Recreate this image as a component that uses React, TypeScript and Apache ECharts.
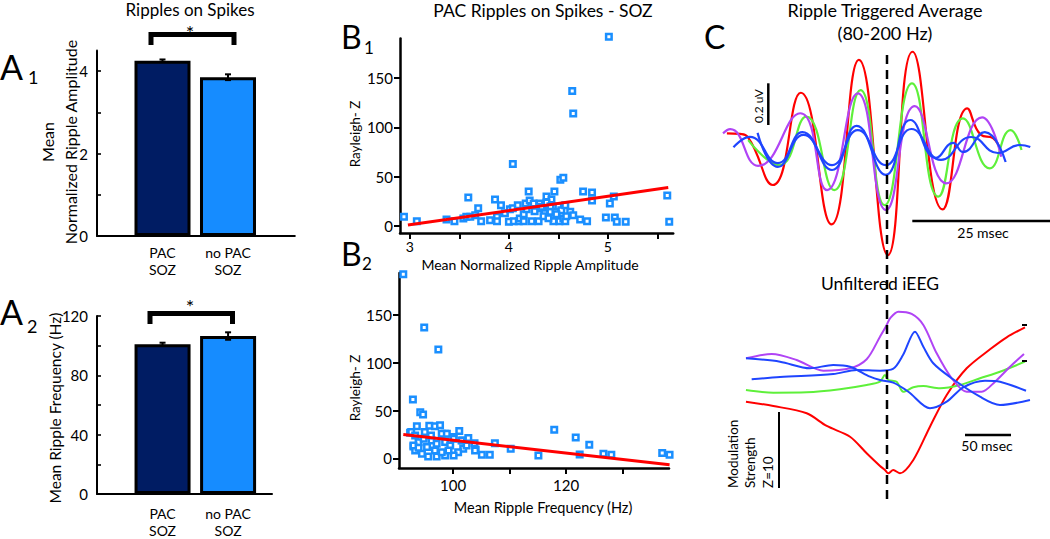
import React, { useEffect, useRef } from "react";
import * as echarts from "echarts";

const FONT = "Lato, 'Open Sans', sans-serif";

// ---- Panel A data ----
const groupLabels = ["PAC\nSOZ", "no PAC\nSOZ"];
const groupColors = ["#001c63", "#168cff"];
const ampMeans = [4.25, 3.85];
const ampErrs = [0.03, 0.07];
const freqMeans = [101, 106.5];
const freqErrs = [1, 2.5];
const ampTicks = [0, 1, 2, 3, 4];
const ampTickLabels = [0, 2, 4];
const freqTicks = [0, 20, 40, 60, 80, 100, 120];
const freqTickLabels = [0, 40, 80, 120];

// ---- Panel B data ----
const b1Points = [
  [2.94, 9.4], [3.07, 5], [3.37, 6.8], [3.45, 5], [3.54, 7.8], [3.57, 9.4], [3.61, 9.4], [3.59, 29],
  [3.66, 11], [3.69, 18], [3.72, 5], [3.81, 6], [3.86, 27], [3.88, 9.4], [3.88, 5], [3.92, 21],
  [3.96, 13], [4.0, 4.4], [4.01, 17], [4.04, 63], [4.04, 18], [4.05, 5], [4.09, 21], [4.1, 5],
  [4.11, 7.8], [4.15, 12], [4.15, 5], [4.18, 17], [4.17, 23], [4.2, 35], [4.21, 26], [4.23, 5],
  [4.25, 23], [4.26, 15], [4.3, 5], [4.31, 23], [4.33, 18], [4.36, 13], [4.38, 30], [4.4, 20],
  [4.42, 14.5], [4.43, 27], [4.46, 35], [4.47, 14.5], [4.48, 9.4], [4.5, 20], [4.51, 5], [4.52, 47],
  [4.53, 16], [4.55, 49], [4.55, 7.8], [4.57, 21], [4.57, 5], [4.62, 14.5], [4.65, 11], [4.72, 6.8],
  [4.75, 35], [4.79, 5], [4.84, 34], [4.84, 26], [4.98, 8.8], [5.02, 23], [5.06, 30], [5.07, 8.8],
  [5.09, 4.4], [5.18, 4.4], [5.6, 31], [5.62, 4.4], [5.01, 192], [4.64, 137], [4.65, 114],
  [4.33, 19.5], [4.38, 24], [4.42, 20], [4.48, 12], [4.35, 10], [4.45, 5], [4.58, 10], [4.4, 8],
];
const b1Fit = [[2.98, 1], [5.61, 39]];
const b1XTicks = [3, 3.5, 4, 4.5, 5, 5.5];
const b1XLabels = [3, 4, 5];
const zTicks = [0, 50, 100, 150];

const b2Points = [
  [91.2, 192.7], [94.9, 137], [97.4, 114], [92.9, 61.6], [94.2, 48.3], [94.7, 45.9], [117.9, 30],
  [121.7, 22], [124.1, 14.4], [122.4, 4.2], [126.6, 4.9], [128.0, 3.9], [137.0, 5.6], [138.3, 3.9],
  [115.1, 3.1], [107.4, 16], [106.5, 3.9], [105.1, 3.9], [110.2, 10.2], [104.0, 9.1], [102.7, 21.3],
  [103.8, 16], [101.1, 28.6], [101.7, 18.9], [92.4, 27], [93.6, 33.6], [95.8, 34.3], [96.8, 33.6],
  [97.7, 34.6], [98.6, 25.9], [100.1, 22.4], [93.0, 12.6], [92.6, 27.6], [93.3, 24], [93.9, 17],
  [94.8, 20.6], [95.4, 11.9], [96.2, 18.9], [97.1, 15.4], [98.0, 25.9], [98.9, 25.9], [98.6, 17.1],
  [99.5, 13.6], [100.1, 20.6], [101.5, 18.9], [101.8, 10.2], [102.4, 13.6], [103.9, 8.4], [100.9, 6.6],
  [100.1, 3.1], [98.6, 3.1], [97.1, 2.1], [95.6, 2.1], [94.5, 4.9], [93.3, 8.4], [93.0, 13.6],
  [93.9, 11.2], [96.8, 8.4], [98.0, 6.6], [99.2, 8.4], [96.1, 24], [95.0, 27.6],
];
const b2Fit = [[91.2, 25], [138.3, -6.6]];
const b2XTicks = [100, 110, 120, 130];
const b2XLabels = [100, 120];

// ---- Panel C: ripple triggered average (ms, uV) ----
const rtaRed = [[-29.0, 0.057], [-26.6, 0.054], [-25.2, 0.04], [-20.6, -0.195], [-15.5, 0.255], [-9.9, -0.387], [-4.9, 0.415], [0.4, -0.537], [4.9, 0.455], [10.4, -0.314], [14.9, 0.179], [17.4, 0.049], [19.6, 0.033], [21.0, -0.034]];
const rtaGreen = [[-25.1, 0.024], [-19.4, -0.098], [-14.5, 0.138], [-9.4, -0.22], [-4.6, 0.268], [-0.2, -0.293], [4.8, 0.301], [9.6, -0.252], [14.1, 0.13], [19.0, -0.114], [22.8, 0.073], [24.8, -0.024]];
const rtaPurple = [[-29.7, 0.057], [-28.4, 0.077], [-23.3, -0.102], [-15.6, 0.155], [-10.7, -0.22], [-5.1, 0.252], [0.05, -0.317], [5.3, 0.19], [11.1, -0.187], [17.6, 0.135], [21.1, -0.057]];
const rtaBlueA = [[-27.8, -0.011], [-24.8, 0.04], [-19.7, -0.088], [-15.2, 0.063], [-9.8, -0.122], [-5.3, 0.093], [0, -0.146], [4.5, 0.122], [9.2, -0.063], [12.3, 0.01], [14.1, -0.034], [18.1, 0.063], [21.9, -0.083]];
const rtaBlueB = [[-23.4, 0.059], [-19.7, -0.107], [-15.0, 0.049], [-9.8, -0.098], [-5.1, 0.073], [0, -0.098], [4.7, 0.078], [10.1, -0.073], [15.6, 0.039], [20.5, -0.039], [24.5, 0], [26.4, -0.01]];

// ---- Panel C: unfiltered iEEG (ms, Z) ----
const iePurple = [[-153.3, 5.49], [-125.3, 6.05], [-98.2, 5.26], [-69.2, 3.86], [-40.2, 4.17], [-22.1, 5.36], [-7.6, 8.33], [-0.3, 9.87], [3.3, 10.75], [12.3, 11.62], [26.8, 11.32], [39.5, 9.87], [54.0, 6.14], [70.3, 2.86], [86.6, 1.09], [102.9, 1.09], [117.4, 2.41], [133.7, 4.38], [148.9, 6.05]];
const ieBlueU = [[-153.3, 5.49], [-116.3, 5.04], [-83.7, 4.17], [-58.4, 4.61], [-40.2, 4.38], [-18.5, 3.07], [-7.6, 2.63], [6.8, 2.28], [23.2, 1.09], [46.7, -1.09], [64.9, -0.22], [82.9, 1.67], [106.5, 2.54], [122.8, 2.41], [151.1, 1.22]];
const ieBlueL = [[-147.1, 2.72], [-116.3, 3.03], [-58.4, 3.42], [-32.9, 3.95], [-7.6, 3.86], [6.5, 4.08], [17.4, 5.92], [30.4, 8.99], [39.5, 7.0], [50.3, 4.83], [70.3, 2.86], [101.1, 0.43], [122.8, -0.66], [155.4, 0]];
const ieGreen = [[-153.3, 1.32], [-123.6, 0.96], [-87.3, 1.01], [-51.1, 1.41], [-22.1, 1.97], [-7.6, 2.41], [-2.2, 3.29], [1.4, 2.63], [10.5, 2.41], [17.7, 1.09], [28.6, 1.67], [39.5, 1.84], [57.6, 1.54], [79.3, 1.97], [101.1, 2.86], [122.8, 3.72], [150, 5.04]];
const ieRed = [[-153.3, -0.22], [-123.6, -0.79], [-87.3, -1.75], [-65.5, -3.42], [-40.2, -4.83], [-22.1, -7.01], [-7.6, -8.68], [-2.2, -9.21], [1.4, -9.64], [6.8, -9.21], [14.1, -9.64], [28.6, -7.89], [46.7, -3.51], [64.9, 0.66], [86.6, 4.17], [112, 6.67], [130.1, 8.25], [150, 9.57]];

const RED = "#ff0000";
const GREEN = "#5ef03a";
const PURPLE = "#b044f5";
const BLUE = "#1f45ff";
const SQ = "#1a8fff";

function errorRender(params: any, api: any) {
  const x = api.value(0);
  const lo = api.coord([x, api.value(1)]);
  const hi = api.coord([x, api.value(2)]);
  const cap = 3;
  const st = { stroke: "#000", lineWidth: 2 };
  return {
    type: "group",
    children: [
      { type: "line", shape: { x1: lo[0], y1: lo[1], x2: hi[0], y2: hi[1] }, style: st },
      { type: "line", shape: { x1: lo[0] - cap, y1: lo[1], x2: lo[0] + cap, y2: lo[1] }, style: st },
      { type: "line", shape: { x1: hi[0] - cap, y1: hi[1], x2: hi[0] + cap, y2: hi[1] }, style: st },
    ],
  };
}

const black = "#000";

function yAxisCfg(gridIndex: number, min: number, max: number, ticks: number[], labels: number[], inside: boolean, lw: number) {
  return {
    type: "value", gridIndex, min, max,
    axisLine: { show: true, onZero: false, lineStyle: { color: black, width: lw } },
    axisTick: { show: true, inside, length: inside ? 4 : 6, customValues: ticks, lineStyle: { color: black, width: lw * 0.8 } },
    axisLabel: { show: true, customValues: labels, color: black, fontSize: 15, fontFamily: FONT, margin: inside ? 9 : 7 },
    splitLine: { show: false },
  };
}

function xAxisCfg(gridIndex: number, min: number, max: number, ticks: number[] | null, labels: number[], lw: number, fmt?: (v: number) => string, margin = 8, fontSize = 15) {
  return {
    type: "value", gridIndex, min, max,
    axisLine: { show: true, onZero: false, lineStyle: { color: black, width: lw } },
    axisTick: ticks ? { show: true, length: 6, customValues: ticks, lineStyle: { color: black, width: lw * 0.8 } } : { show: false },
    axisLabel: { show: true, customValues: labels, color: black, fontSize, lineHeight: 17, fontFamily: FONT, margin, formatter: fmt },
    splitLine: { show: false },
  };
}

function hiddenAxis(gridIndex: number, min: number, max: number) {
  return { type: "value", gridIndex, min, max, show: false, splitLine: { show: false } };
}

function txt(text: string, x: number, y: number, fontSize: number, align = "center", extra: any = {}) {
  return {
    type: "text", x, y, z: 100,
    style: { text, fontSize, fontFamily: FONT, fill: "#000", textAlign: align, textVerticalAlign: "middle", ...extra },
  };
}
function rtxt(text: string, x: number, y: number, fontSize: number, align = "center", extra: any = {}) {
  return { ...txt(text, x, y, fontSize, align, extra), rotation: Math.PI / 2 };
}
function ln(x1: number, y1: number, x2: number, y2: number, w: number, extra: any = {}) {
  return { type: "line", z: 100, shape: { x1, y1, x2, y2 }, style: { stroke: "#000", lineWidth: w, ...extra } };
}

export default function App() {
  const ref = useRef<HTMLDivElement>(null);
  useEffect(() => {
    if (!ref.current) return;
    const chart = echarts.init(ref.current, undefined, { renderer: "svg" });
    const catFmt = (v: number) => groupLabels[Math.round(v) - 1] ?? "";
    const curve = (xi: number, data: number[][], color: string, w: number, smooth: number) => ({
      type: "line", xAxisIndex: xi, yAxisIndex: xi, data, smooth, symbol: "none", clip: false,
      lineStyle: { color, width: w },
    });
    const option: any = {
      animation: false,
      backgroundColor: "#fff",
      textStyle: { fontFamily: FONT },
      grid: [
        { left: 97, top: 50.4, width: 197.8, height: 185.6 },
        { left: 97, top: 316, width: 175, height: 180 },
        { left: 400, top: 38.6, width: 273.2, height: 194.4 },
        { left: 399, top: 273, width: 270, height: 195 },
        { left: 721.4, top: 42.5, width: 331.2, height: 225.5 },
        { left: 739.8, top: 301.2, width: 299, height: 197.6 },
      ],
      xAxis: [
        xAxisCfg(0, 0, 3.02, null, [1, 2], 2, catFmt, 8, 14),
        xAxisCfg(1, 0, 2.67, null, [1, 2], 2, catFmt, 11, 14),
        xAxisCfg(2, 2.9, 5.66, b1XTicks, b1XLabels, 2.5, undefined, 5, 14),
        xAxisCfg(3, 90.44, 138.2, b2XTicks, b2XLabels, 2.5, undefined, 8, 15),
        hiddenAxis(4, -30, 30),
        hiddenAxis(5, -160, 165),
      ],
      yAxis: [
        yAxisCfg(0, 0, 4.5, ampTicks, ampTickLabels, true, 2),
        yAxisCfg(1, 0, 120, freqTicks, freqTickLabels, true, 2),
        yAxisCfg(2, -7, 190, zTicks, zTicks, false, 2.5),
        yAxisCfg(3, -10, 194, zTicks, zTicks, false, 2.5),
        hiddenAxis(4, -0.6, 0.5),
        hiddenAxis(5, -13, 13),
      ],
      series: [
        {
          type: "bar", xAxisIndex: 0, yAxisIndex: 0, barWidth: 56,
          data: ampMeans.map((v, i) => ({ value: [i + 1, v], itemStyle: { color: groupColors[i] } })),
          itemStyle: { borderColor: "#000", borderWidth: 3 },
        },
        {
          type: "custom", xAxisIndex: 0, yAxisIndex: 0, renderItem: errorRender, z: 5,
          data: ampMeans.map((v, i) => [i + 1, v - ampErrs[i], v + ampErrs[i]]),
        },
        {
          type: "bar", xAxisIndex: 1, yAxisIndex: 1, barWidth: 56,
          data: freqMeans.map((v, i) => ({ value: [i + 1, v], itemStyle: { color: groupColors[i] } })),
          itemStyle: { borderColor: "#000", borderWidth: 3 },
        },
        {
          type: "custom", xAxisIndex: 1, yAxisIndex: 1, renderItem: errorRender, z: 5,
          data: freqMeans.map((v, i) => [i + 1, v - freqErrs[i], v + freqErrs[i]]),
        },
        {
          type: "scatter", xAxisIndex: 2, yAxisIndex: 2, data: b1Points, symbol: "rect", symbolSize: 5.5, clip: false,
          itemStyle: { color: "#fff", borderColor: SQ, borderWidth: 2.5, opacity: 1 },
        },
        { type: "line", xAxisIndex: 2, yAxisIndex: 2, data: b1Fit, symbol: "none", z: 4, lineStyle: { color: RED, width: 3 } },
        {
          type: "scatter", xAxisIndex: 3, yAxisIndex: 3, data: b2Points, symbol: "rect", symbolSize: 5.5, clip: false,
          itemStyle: { color: "#fff", borderColor: SQ, borderWidth: 2.5, opacity: 1 },
        },
        { type: "line", xAxisIndex: 3, yAxisIndex: 3, data: b2Fit, symbol: "none", z: 4, lineStyle: { color: RED, width: 3 } },
        curve(4, rtaRed, RED, 2.2, 0.5),
        curve(4, rtaGreen, GREEN, 2.2, 0.5),
        curve(4, rtaPurple, PURPLE, 2.2, 0.5),
        curve(4, rtaBlueA, BLUE, 2.2, 0.5),
        curve(4, rtaBlueB, BLUE, 2.2, 0.5),
        curve(5, ieRed, RED, 2, 0.3),
        curve(5, ieGreen, GREEN, 2, 0.3),
        curve(5, iePurple, PURPLE, 2, 0.3),
        curve(5, ieBlueU, BLUE, 2, 0.3),
        curve(5, ieBlueL, BLUE, 2, 0.3),
      ],
      graphic: {
        elements: [
          // Panel A1
          txt("Ripples on Spikes", 190, 9, 17),
          { type: "polyline", z: 100, shape: { points: [[151, 45], [151, 34.5], [234, 34.5], [234, 45]] }, style: { stroke: "#000", lineWidth: 5, fill: "none", lineJoin: "miter" } },
          txt("*", 190, 32, 20),
          txt("A", 0, 66, 34, "left"),
          txt("1", 28, 77, 18, "left"),
          rtxt("Mean\nNormalized Ripple Amplitude", 58.5, 142, 16, "center", { lineHeight: 23 }),
          // Panel A2
          { type: "polyline", z: 100, shape: { points: [[150, 324], [150, 313.5], [232.5, 313.5], [232.5, 324]] }, style: { stroke: "#000", lineWidth: 5, fill: "none", lineJoin: "miter" } },
          txt("*", 190, 306, 20),
          txt("A", 0, 311, 34, "left"),
          txt("2", 27, 326, 18, "left"),
          rtxt("Mean Ripple Frequency (Hz)", 55, 408, 15.5),
          // Panel B
          txt("PAC Ripples on Spikes - SOZ", 543, 10, 17.5),
          txt("B", 341, 36, 32, "left"),
          txt("1", 364, 47, 17, "left"),
          rtxt("Rayleigh- Z", 355, 134, 13.5),
          txt("Mean Normalized Ripple Amplitude", 530, 264, 14),
          txt("B", 341, 253, 32, "left"),
          txt("2", 362, 263, 17, "left"),
          rtxt("Rayleigh- Z", 355, 388, 13.5),
          txt("Mean Ripple Frequency (Hz)", 543, 507, 14.5),
          // Panel C
          txt("Ripple Triggered Average", 885, 10, 18),
          txt("(80-200 Hz)", 885, 33, 18),
          txt("C", 704, 36, 32, "left"),
          ln(887, 55, 887, 500, 2.5, { lineDash: [9, 6] }),
          ln(768.3, 83.3, 768.3, 125, 2.5),
          rtxt("0.2 uV", 758, 106, 12),
          ln(912.3, 221, 1050, 221, 2.5),
          txt("25 msec", 983, 232, 14),
          txt("Unfiltered iEEG", 880, 283, 17.5),
          ln(965, 435, 1011, 435, 2.5),
          txt("50 msec", 987, 445, 14),
          ln(779, 412, 779, 488, 2),
          rtxt("Modulation\nStrength\nZ=10", 750, 488, 13.5, "left", { lineHeight: 17.5 }),
          ln(1022, 325, 1027, 325, 2),
          ln(1022, 361, 1027, 361, 2),
        ],
      },
    };
    chart.setOption(option);
    return () => chart.dispose();
  }, []);
  return <div ref={ref} style={{ position: "absolute", left: 0, top: 0, width: 1050, height: 539 }} />;
}
